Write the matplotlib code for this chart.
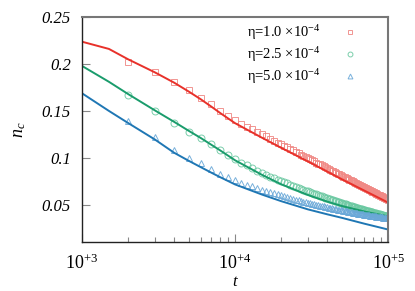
import matplotlib
matplotlib.use("Agg")
import matplotlib.pyplot as plt
from matplotlib.ticker import LogLocator, NullFormatter

plt.rcParams['font.family'] = ['Liberation Serif', 'DejaVu Serif']
plt.rcParams['mathtext.fontset'] = 'custom'
plt.rcParams['mathtext.rm'] = 'Liberation Serif'
plt.rcParams['mathtext.it'] = 'Liberation Serif:italic'

# ---------------- data ----------------
t_pts = [1000 * n for n in range(2, 101)]

red_pts = [0.2025, 0.1918, 0.1810, 0.1720, 0.1640, 0.1570, 0.1500, 0.1450,
           0.1400, 0.1365, 0.1333, 0.1304, 0.1277, 0.1251, 0.1228, 0.1205, 0.1184, 0.1164,
           0.1146, 0.1128, 0.1111, 0.1094, 0.1079, 0.1064, 0.1049, 0.1035, 0.1022, 0.1009,
           0.0997, 0.0985, 0.0973, 0.0962, 0.0951, 0.0940, 0.0930, 0.0920, 0.0910, 0.0901,
           0.0891, 0.0882, 0.0873, 0.0865, 0.0856, 0.0848, 0.0840, 0.0832, 0.0824, 0.0817,
           0.0809, 0.0802, 0.0795, 0.0788, 0.0781, 0.0774, 0.0768, 0.0761, 0.0755, 0.0749,
           0.0742, 0.0736, 0.0730, 0.0725, 0.0719, 0.0713, 0.0708, 0.0702, 0.0697, 0.0691,
           0.0686, 0.0681, 0.0676, 0.0671, 0.0666, 0.0661, 0.0656, 0.0651, 0.0646, 0.0642,
           0.0637, 0.0632, 0.0628, 0.0623, 0.0619, 0.0615, 0.0610, 0.0606, 0.0602, 0.0598,
           0.0594, 0.0590, 0.0586, 0.0582, 0.0578, 0.0574, 0.0570, 0.0566, 0.0562, 0.0559,
           0.0555]

green_pts = [0.1670, 0.1500, 0.1376, 0.1280, 0.1216, 0.1145, 0.1085, 0.1032,
             0.0985, 0.0950, 0.0920, 0.0892, 0.0866, 0.0843, 0.0821, 0.0802, 0.0786, 0.0770,
             0.0755, 0.0741, 0.0728, 0.0715, 0.0703, 0.0692, 0.0682, 0.0671, 0.0662, 0.0652,
             0.0643, 0.0635, 0.0627, 0.0619, 0.0611, 0.0604, 0.0597, 0.0590, 0.0583, 0.0577,
             0.0571, 0.0565, 0.0559, 0.0553, 0.0548, 0.0543, 0.0537, 0.0532, 0.0527, 0.0523,
             0.0518, 0.0513, 0.0509, 0.0505, 0.0500, 0.0496, 0.0492, 0.0488, 0.0485, 0.0481,
             0.0477, 0.0474, 0.0470, 0.0467, 0.0464, 0.0460, 0.0457, 0.0454, 0.0451, 0.0448,
             0.0445, 0.0442, 0.0439, 0.0436, 0.0433, 0.0431, 0.0428, 0.0425, 0.0423, 0.0420,
             0.0418, 0.0415, 0.0413, 0.0410, 0.0408, 0.0406, 0.0403, 0.0401, 0.0399, 0.0397,
             0.0395, 0.0393, 0.0391, 0.0388, 0.0386, 0.0384, 0.0383, 0.0381, 0.0379, 0.0377,
             0.0375]

blue_pts = [0.1397, 0.1227, 0.1085, 0.1003, 0.0943, 0.0886, 0.0832, 0.0802,
            0.0765, 0.0736, 0.0715, 0.0696, 0.0679, 0.0663, 0.0648, 0.0635, 0.0623, 0.0611,
            0.0601, 0.0591, 0.0581, 0.0573, 0.0564, 0.0556, 0.0549, 0.0542, 0.0535, 0.0529,
            0.0523, 0.0517, 0.0511, 0.0506, 0.0501, 0.0496, 0.0491, 0.0487, 0.0483, 0.0478,
            0.0474, 0.0470, 0.0467, 0.0463, 0.0460, 0.0456, 0.0453, 0.0450, 0.0447, 0.0444,
            0.0441, 0.0438, 0.0435, 0.0433, 0.0430, 0.0427, 0.0425, 0.0423, 0.0420, 0.0418,
            0.0416, 0.0414, 0.0412, 0.0410, 0.0408, 0.0406, 0.0404, 0.0402, 0.0400, 0.0398,
            0.0397, 0.0395, 0.0393, 0.0391, 0.0390, 0.0388, 0.0387, 0.0385, 0.0384, 0.0382,
            0.0381, 0.0380, 0.0378, 0.0377, 0.0376, 0.0374, 0.0373, 0.0372, 0.0371, 0.0370,
            0.0368, 0.0367, 0.0366, 0.0365, 0.0364, 0.0363, 0.0362, 0.0361, 0.0360, 0.0359,
            0.0358]

t_line = [1000, 1500, 2000, 3000, 4000, 5000, 6000, 7000, 8000, 10000,
          15000, 20000, 30000, 40000, 50000, 70000, 100000]
red_line = [0.2237, 0.2160, 0.2050, 0.1910, 0.1801, 0.1705, 0.1622, 0.1546, 0.1478, 0.1370,
            0.1215, 0.1108, 0.0962, 0.0855, 0.0772, 0.0652, 0.0525]
green_line = [0.1979, 0.1810, 0.1680, 0.1505, 0.1384, 0.1287, 0.1210, 0.1140, 0.1080, 0.0975,
              0.0820, 0.0720, 0.0605, 0.0535, 0.0488, 0.0430, 0.0378]
blue_line = [0.1688, 0.1500, 0.1372, 0.1195, 0.1055, 0.0968, 0.0900, 0.0843, 0.0795, 0.0718,
             0.0610, 0.0540, 0.0452, 0.0400, 0.0362, 0.0300, 0.0238]

labels = [r'η=$\mathit{1.0}$ ×$\mathit{10^{-4}}$',
          r'η=$\mathit{2.5}$ ×$\mathit{10^{-4}}$',
          r'η=$\mathit{5.0}$ ×$\mathit{10^{-4}}$']
xtick_vals = [1e3, 1e4, 1e5]
xtick_labels = [r'$\mathit{10^{+3}}$', r'$\mathit{10^{+4}}$', r'$\mathit{10^{+5}}$']
ytick_vals = [0.05, 0.1, 0.15, 0.2, 0.25]
ytick_labels = ['0.05', '0.1', '0.15', '0.2', '0.25']

# ---------------- plot ----------------
fig = plt.figure(figsize=(4.15, 2.91), dpi=100)
ax = fig.add_axes([0.1976, 0.1684, 0.7374, 0.7732])

line_colors = ['#e8312a', '#1a9c6c', '#1f77b4']
mk_colors = ['#f08a86', '#6cc9a2', '#6aa8d8']
markers = ['s', 'o', '^']

for pts, ln, lab, lc, mc, m in zip([red_pts, green_pts, blue_pts],
                                   [red_line, green_line, blue_line],
                                   labels, line_colors, mk_colors, markers):
    ax.plot(t_pts, pts, linestyle='none', marker=m, markersize=5.0,
            markerfacecolor='none', markeredgecolor=mc, markeredgewidth=0.7,
            label=lab, alpha=0.9)
    ax.plot(t_line, ln, color=lc, linewidth=1.4)

ax.set_xscale('log')
ax.set_xlim(1e3, 1e5)
ax.set_ylim(0.0105, 0.25)

ax.set_xticks(xtick_vals, labels=xtick_labels)
ax.xaxis.set_minor_locator(LogLocator(base=10, subs=range(2, 10)))
ax.xaxis.set_minor_formatter(NullFormatter())
ax.set_yticks(ytick_vals, labels=ytick_labels)
for lab in ax.get_yticklabels():
    lab.set_fontstyle('italic')

ax.tick_params(axis='both', which='both', direction='in', color='#888888',
               top=False, right=False)
ax.tick_params(axis='y', which='major', length=6, width=0.8, labelsize=12, pad=8)
ax.tick_params(axis='x', which='major', length=6, width=0.8, labelsize=13, pad=8)
ax.tick_params(axis='x', which='minor', length=3.5, width=0.8)

for side in ['left', 'bottom']:
    ax.spines[side].set_color('#222222')
    ax.spines[side].set_linewidth(1.0)
for side in ['top', 'right']:
    ax.spines[side].set_color('#777777')
    ax.spines[side].set_linewidth(1.5)

ax.set_xlabel('t', fontstyle='italic', fontsize=12, labelpad=1)
ax.set_ylabel(r'$\mathit{n_c}$', fontsize=13, labelpad=10)

leg = ax.legend(loc='upper right', bbox_to_anchor=(0.9, 0.972), frameon=False,
                markerfirst=False, fontsize=10.5, labelspacing=0.22, handlelength=1.0,
                handletextpad=1.5, borderaxespad=0.0, borderpad=0.0, markerscale=0.7)

fig.savefig('out.png', dpi=100)
